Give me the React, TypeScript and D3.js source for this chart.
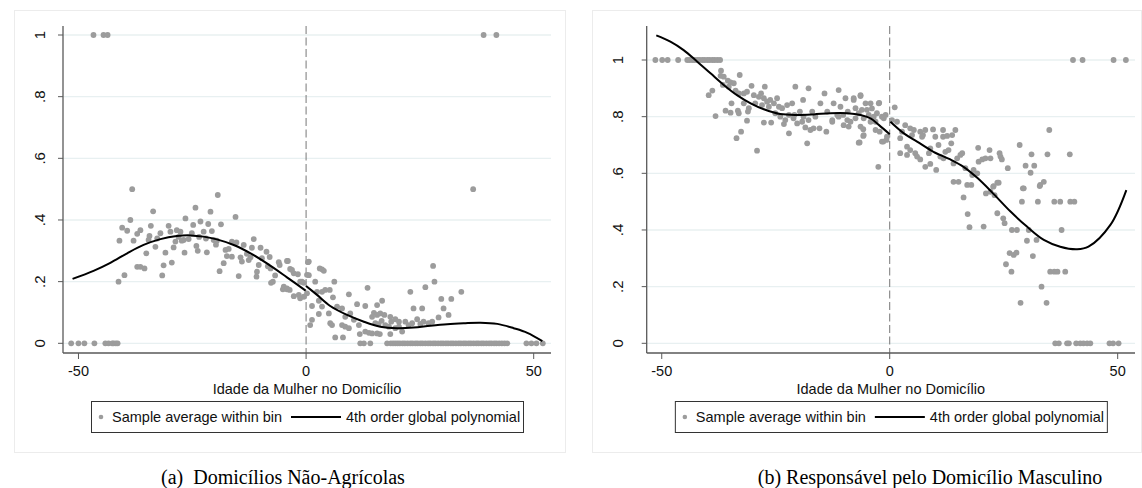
import React from 'react';
import * as d3 from 'd3';

type P = [number, number];

const xTicks = [-50, 0, 50];
const yTicks = [0, 0.2, 0.4, 0.6, 0.8, 1];
const yTickLabels = ['0', '.2', '.4', '.6', '.8', '1'];
const xTitle = 'Idade da Mulher no Domicílio';
const legendLabels = ['Sample average within bin', '4th order global polynomial'];
const captions = ['(a)\u00A0 Domicílios Não-Agrícolas', '(b) Responsável pelo Domicílio Masculino'];

// ---------- Panel (a) ----------
const aOnes = [-46.7, -44.5, -43.6, 39.0, 41.8];
const aZeros = [-51.6, -50, -48.7, -46.5, -44.1, -43.4, -42.6, -42.3, -41.8, -41.4, 11.9, 12.7, 14.1,
  17.8, 18.6, 19.1, 19.6, 20.1, 20.6, 21.2, 21.7, 22.3, 22.9, 23.4, 24.0, 24.5, 25.1, 25.6, 26.2, 26.8,
  27.3, 27.9, 28.4, 29.0, 29.6, 30.1, 30.7, 31.2, 31.8, 32.3, 32.9, 33.5, 34.0, 34.6, 35.1, 35.7, 36.2,
  36.8, 37.4, 37.9, 38.5, 39.0, 39.6, 40.2, 40.7, 41.3, 41.8, 42.4, 43.0, 43.6, 44.2, 48.4, 49.5, 50.6, 52.0];
const aPoints: P[] = [
  [-38.2, 0.5], [-19.4, 0.481], [36.7, 0.5],
  [-33.6, 0.428], [-24.3, 0.44], [-21, 0.427], [-15.5, 0.41], [-38.6, 0.40], [-40.4, 0.375], [-39.3, 0.365],
  [-36.4, 0.367], [-37.1, 0.355], [-41, 0.333], [-37.9, 0.333], [-34.1, 0.381], [-34.4, 0.348], [-34.6, 0.335],
  [-32, 0.357], [-32.7, 0.34], [-33.1, 0.313], [-30.2, 0.381], [-29.8, 0.362], [-28.4, 0.367], [-27.6, 0.362],
  [-28.7, 0.33], [-29.1, 0.311], [-30.9, 0.294], [-35.1, 0.292], [-37.1, 0.248], [-36.4, 0.248], [-35.5, 0.243],
  [-31.3, 0.253], [-31.6, 0.22], [-29.5, 0.262], [-39.9, 0.221], [-41.2, 0.2], [-26.5, 0.405], [-24.8, 0.384],
  [-23.2, 0.395], [-21.5, 0.387], [-22.5, 0.362], [-20.7, 0.364], [-18.7, 0.386], [-25.1, 0.357], [-26.9, 0.335],
  [-25.8, 0.338], [-27.3, 0.333], [-24.1, 0.316], [-23.8, 0.30], [-21.8, 0.295], [-26.7, 0.294], [-20.3, 0.335],
  [-19.6, 0.333], [-17.7, 0.303], [-17, 0.306], [-16.3, 0.33], [-15.3, 0.327], [-13.7, 0.319], [-11.5, 0.338],
  [-11.9, 0.31], [-10, 0.31], [-8.7, 0.297], [-17.4, 0.283], [-16.3, 0.281], [-18.1, 0.26], [-14.4, 0.279],
  [-14.1, 0.265], [-12.6, 0.27], [-12.2, 0.279], [-9.7, 0.276], [-10.4, 0.254], [-10.8, 0.232], [-10.9, 0.216],
  [-19, 0.234], [-14.8, 0.218], [-7.8, 0.243], [-6, 0.263], [-5.8, 0.254], [-4, 0.267], [-3.5, 0.241],
  [-2.7, 0.227], [-7.7, 0.196], [-7.3, 0.2], [-5.1, 0.175], [-4.2, 0.175], [-3.6, 0.173], [-2.7, 0.153],
  [-1.6, 0.157], [-1.3, 0.146], [-0.5, 0.151], [-1.3, 0.2], [-0.5, 0.196], [-4.2, 0.267], [-3.1, 0.238],
  [-1.8, 0.224], [-4.9, 0.184], [-4.2, 0.178], [-0.9, 0.2], [-28.0, 0.345], [-23.5, 0.345], [-22.0, 0.34],
  [-19.8, 0.32], [-13, 0.29], [-8, 0.28], [-6.8, 0.22], [-8.4, 0.25],
  [0.2, 0.162], [0.6, 0.265], [0.6, 0.221], [0.4, 0.263], [0.2, 0.222], [2.0, 0.2], [3.0, 0.243], [3.5, 0.24],
  [3.9, 0.235], [2.4, 0.167], [3.5, 0.167], [4.2, 0.173], [5.2, 0.173], [6.2, 0.2], [5.9, 0.149], [1.3, 0.121],
  [2.8, 0.138], [3.5, 0.119], [1.3, 0.076], [0.9, 0.059], [2.8, 0.095], [5.0, 0.097], [5.3, 0.065], [5.7, 0.059],
  [6.8, 0.119], [7.9, 0.113], [9.4, 0.159], [8.6, 0.086], [9.7, 0.097], [10.5, 0.076], [7.9, 0.059], [8.6, 0.054],
  [9.4, 0.049], [6.4, 0.019], [8.1, 0.019], [11.2, 0.127], [13.0, 0.121], [13.5, 0.18], [11.6, 0.059], [11.8, 0.03],
  [13.0, 0.038], [13.8, 0.034], [14.5, 0.032], [15.6, 0.032], [16.2, 0.03], [14.5, 0.086], [14.9, 0.099],
  [15.6, 0.092], [16.3, 0.097], [17.2, 0.092], [15.2, 0.065], [15.9, 0.062], [16.6, 0.073], [15.6, 0.124],
  [16.7, 0.138], [17.4, 0.059], [18.2, 0.054], [18.7, 0.07], [18.5, 0.086], [19.6, 0.078], [20.4, 0.07],
  [18.5, 0.03], [19.6, 0.049], [20.4, 0.054], [21.1, 0.038], [21.8, 0.07], [22.5, 0.059], [22.9, 0.167],
  [23.6, 0.113], [25.5, 0.113], [23.3, 0.065], [24.4, 0.078], [25.1, 0.063], [25.8, 0.07], [26.9, 0.065],
  [27.7, 0.07], [26.2, 0.182], [27.9, 0.251], [28.2, 0.2], [30.2, 0.113], [29.7, 0.144], [31.9, 0.144],
  [29.1, 0.084], [31.3, 0.092], [34.1, 0.167]
];
const aFitLeft: P[] = [
  [-51.3, 0.209], [-46.7, 0.235], [-43, 0.261], [-39.3, 0.292], [-35.7, 0.319], [-32, 0.338], [-28.4, 0.348],
  [-25.4, 0.35], [-22.5, 0.346], [-19.6, 0.337], [-15.9, 0.319], [-12.2, 0.292], [-8.6, 0.259], [-4.2, 0.214], [-0.1, 0.171]
];
const aFitRight: P[] = [
  [0, 0.186], [2.4, 0.157], [5.3, 0.121], [9.0, 0.092], [12.7, 0.07], [16.3, 0.054], [20, 0.049], [23.6, 0.051],
  [27.3, 0.057], [31, 0.062], [34.6, 0.065], [38.3, 0.067], [42, 0.063], [45.6, 0.049], [48.6, 0.034], [51.9, 0.007]
];

// ---------- Panel (b) ----------
const bOnes = [-51.4, -49.9, -48.7, -46.4, -44.4, -43.9, -43.3, -42.8, -42.2, -41.7, -41.1, -40.6, -40.0, -39.5,
  -38.9, -38.4, -37.8, -37.2, 40.2, 42.3, 49.1, 51.8];
const bZeros = [36.3, 37.1, 38.9, 39.3, 40.9, 41.8, 42.5, 43.3, 44, 48.2, 49, 50.2];
const bPoints: P[] = [
  [-37, 0.962], [-32.9, 0.947], [-37.1, 0.944], [-36.4, 0.941], [-35.5, 0.927], [-34.9, 0.921], [-34.2, 0.918],
  [-36.6, 0.912], [-35.3, 0.906], [-38.9, 0.892], [-39.7, 0.876], [-33.8, 0.892], [-33.1, 0.882], [-32, 0.882],
  [-31.3, 0.888], [-30.3, 0.909], [-27.4, 0.906], [-29.8, 0.876], [-28.7, 0.87], [-28.2, 0.882], [-27.6, 0.865],
  [-26.9, 0.853], [-26.2, 0.859], [-25.4, 0.847], [-24.7, 0.865], [-24.3, 0.835], [-23.6, 0.83], [-22.5, 0.841],
  [-21.4, 0.847], [-20.7, 0.906], [-19, 0.859], [-17.8, 0.9], [-19.7, 0.818], [-18.9, 0.8], [-17.8, 0.788],
  [-17, 0.818], [-16.3, 0.8], [-15.2, 0.847], [-14.3, 0.882], [-13.7, 0.818], [-12.6, 0.788], [-12.3, 0.847],
  [-11.2, 0.894], [-10.8, 0.835], [-9.7, 0.865], [-9.2, 0.818], [-7.9, 0.859], [-6.4, 0.876], [-5.3, 0.847],
  [-4.2, 0.847], [-6.1, 0.824], [-4.6, 0.806], [-3.5, 0.8], [-2.3, 0.849], [-0.9, 0.806],
  [-38.2, 0.802], [-36, 0.821], [-34.9, 0.814], [-33.3, 0.821], [-33.1, 0.812], [-31.1, 0.818], [-34.7, 0.847],
  [-31.3, 0.786], [-32.6, 0.747], [-33.6, 0.724], [-29.1, 0.68], [-27.6, 0.779], [-26, 0.779], [-23.2, 0.774],
  [-22.1, 0.741], [-21.1, 0.794], [-20.3, 0.776], [-19.2, 0.782], [-18.5, 0.762], [-18.1, 0.706], [-17.4, 0.753],
  [-16.7, 0.759], [-15.4, 0.759], [-13.9, 0.747], [-12.6, 0.782], [-11.5, 0.806], [-10.1, 0.77], [-9, 0.765],
  [-8.6, 0.782], [-6.6, 0.709], [-5.8, 0.732], [-5.8, 0.756], [-4.2, 0.782], [-3.1, 0.753], [-2.2, 0.747],
  [-1.7, 0.712], [-0.7, 0.718], [-2.5, 0.623],
  [-7.9, 0.865], [-6.4, 0.873], [-2.4, 0.847], [-7.5, 0.83], [-5.7, 0.794], [-3.1, 0.782], [-1.3, 0.794],
  [-6.4, 0.765], [-5.7, 0.735], [-6.8, 0.708], [-0.6, 0.729], [-1.4, 0.712],
  [-25.1, 0.812], [-24, 0.8], [-22.1, 0.806], [-20.9, 0.806], [-22.9, 0.788], [-29.5, 0.847], [-28, 0.841],
  [-26.5, 0.835], [-32, 0.847], [-30.9, 0.83], [-11.2, 0.8], [-10.2, 0.806], [-9.3, 0.788], [-7.5, 0.794],
  [-6.8, 0.812], [-5, 0.824], [-3.9, 0.829], [-2.8, 0.812], [-1.7, 0.8],
  [1.1, 0.833], [0.5, 0.788], [1.6, 0.782], [3.4, 0.77], [4.5, 0.759], [5.3, 0.753], [4.9, 0.735], [2.3, 0.724],
  [2.7, 0.747], [6.7, 0.747], [7.3, 0.735], [7.8, 0.753], [7.1, 0.729], [9.5, 0.755], [11.7, 0.753], [14.4, 0.753],
  [13.7, 0.735], [12.6, 0.732], [11.7, 0.729], [10, 0.729], [10.7, 0.7], [8.9, 0.688], [13.5, 0.706], [3.8, 0.694],
  [4.5, 0.682], [5.6, 0.671], [6, 0.659], [6.7, 0.649], [2.3, 0.671], [3.8, 0.665], [8.6, 0.671], [8.9, 0.633],
  [7.8, 0.623], [10.2, 0.612], [12.2, 0.676], [12.9, 0.682], [11.1, 0.659], [11.8, 0.653], [14.8, 0.653],
  [15.5, 0.665], [15.9, 0.671], [14, 0.635], [16.6, 0.618], [18.4, 0.612], [19.2, 0.6], [18.1, 0.594],
  [19.4, 0.69], [19.5, 0.641], [20.3, 0.649], [21, 0.653], [21.9, 0.682], [22.1, 0.653], [24.1, 0.671],
  [24.3, 0.659], [24.6, 0.649], [25.9, 0.618], [23.6, 0.567], [22.8, 0.555], [21.1, 0.529], [22.1, 0.535],
  [14, 0.57], [15.1, 0.57], [17, 0.559], [17.9, 0.559], [16.2, 0.515], [28.5, 0.7], [31.1, 0.667], [34.6, 0.667],
  [39.5, 0.667], [35, 0.753], [29.8, 0.627], [31.7, 0.627], [30.9, 0.602], [29.4, 0.547], [33, 0.559],
  [33.8, 0.57], [17.1, 0.456], [17.5, 0.41], [20.6, 0.412], [23, 0.523], [23.9, 0.567], [22.7, 0.553],
  [23.6, 0.459], [24.9, 0.441], [25.2, 0.424], [26.8, 0.4], [27.9, 0.4], [26.3, 0.318], [27.2, 0.312],
  [27.8, 0.32], [25.5, 0.279], [26.7, 0.253], [29.2, 0.547], [29, 0.5], [32.5, 0.5], [30.5, 0.4], [30.1, 0.362],
  [32.2, 0.365], [31.4, 0.308], [32.9, 0.555], [36.1, 0.5], [37.4, 0.5], [39.6, 0.5], [40.5, 0.5], [37.7, 0.4],
  [35.2, 0.253], [36.1, 0.253], [36.8, 0.253], [38.5, 0.253], [33.3, 0.2], [28.7, 0.143], [34.4, 0.143]
];
const bFitLeft: P[] = [
  [-51.2, 1.087], [-48.1, 1.065], [-45.2, 1.035], [-42.2, 0.994], [-39.3, 0.953], [-36.4, 0.912], [-33.5, 0.876],
  [-30.5, 0.847], [-27.6, 0.826], [-24, 0.809], [-20.3, 0.806], [-16.7, 0.808], [-13, 0.812], [-9.3, 0.812],
  [-6.4, 0.806], [-4.2, 0.794], [-2.4, 0.771], [0, 0.738]
];
const bFitRight: P[] = [
  [0.15, 0.782], [3.1, 0.741], [6, 0.712], [9.6, 0.676], [13.3, 0.649], [16.2, 0.623], [19.2, 0.584],
  [22.5, 0.532], [26.5, 0.465], [30.1, 0.412], [33.8, 0.365], [37.4, 0.341], [41.1, 0.332], [43.6, 0.341],
  [48.4, 0.418], [51.9, 0.541]
];

const SANS = '"Liberation Sans", Arial, Helvetica, sans-serif';
const SERIF = '"Liberation Serif", "Times New Roman", serif';
const DOT = '#9c9c9c';
const GRID = '#e8f0f1';
const AXIS = '#595959';

interface Layout {
  frame: [number, number, number, number];
  left: number; right: number; top: number; axisY: number;
  xDomain: [number, number]; yPix0: number; yPix1: number;
  yLabelX: number; legendW: number; captionX: number;
}

const layouts: Layout[] = [
  { frame: [14, 10, 565, 452], left: 63, right: 551, top: 26, axisY: 353, xDomain: [-53.4, 53.8],
    yPix0: 343.3, yPix1: 35, yLabelX: 45, legendW: 432, captionX: 283 },
  { frame: [592, 10, 1141, 452], left: 646.7, right: 1135, top: 26, axisY: 353, xDomain: [-53.3, 53.8],
    yPix0: 343.3, yPix1: 60, yLabelX: 623, legendW: 432, captionX: 930 },
];

function Panel({ L, points, ones, zeros, fitL, fitR, caption }: {
  L: Layout; points: P[]; ones: number[]; zeros: number[]; fitL: P[]; fitR: P[]; caption: string;
}) {
  const x = d3.scaleLinear().domain(L.xDomain).range([L.left, L.right]);
  const y = d3.scaleLinear().domain([0, 1]).range([L.yPix0, L.yPix1]);
  const line = d3.line<P>().x(d => x(d[0])).y(d => y(d[1])).curve(d3.curveCatmullRom.alpha(0.5));
  const allPts: P[] = [
    ...points,
    ...ones.map(v => [v, 1] as P),
    ...zeros.map(v => [v, 0] as P),
  ];
  const cx = (L.left + L.right) / 2;
  const lgX = cx - L.legendW / 2;
  const lgY = 401;
  const [fx0, fy0, fx1, fy1] = L.frame;
  return (
    <g>
      <rect x={fx0 + 0.5} y={fy0 + 0.5} width={fx1 - fx0} height={fy1 - fy0} fill="#fff" stroke="#ececec" strokeWidth={1} />
      {yTicks.map((t, i) => (
        <g key={'g' + i}>
          <line x1={L.left} x2={L.right} y1={y(t)} y2={y(t)} stroke={GRID} strokeWidth={1.3} />
          <line x1={L.left - 5} x2={L.left} y1={y(t)} y2={y(t)} stroke={AXIS} strokeWidth={1} />
          <text transform={`translate(${L.yLabelX},${y(t)}) rotate(-90)`} textAnchor="middle"
            fontFamily={SANS} fontSize={15} fill="#111">{yTickLabels[i]}</text>
        </g>
      ))}
      <line x1={x(0)} x2={x(0)} y1={L.top} y2={L.axisY} stroke="#777" strokeWidth={1} strokeDasharray="8,3.5" />
      {allPts.map((d, i) => (
        <circle key={'p' + i} cx={x(d[0])} cy={y(d[1])} r={2.9} fill={DOT} />
      ))}
      <path d={line(fitL) || ''} fill="none" stroke="#000" strokeWidth={2} />
      <path d={line(fitR) || ''} fill="none" stroke="#000" strokeWidth={2} />
      <line x1={L.left} x2={L.left} y1={L.top} y2={L.axisY} stroke={AXIS} strokeWidth={1.3} />
      <line x1={L.left} x2={L.right} y1={L.axisY} y2={L.axisY} stroke={AXIS} strokeWidth={1.3} />
      {xTicks.map((t, i) => (
        <g key={'x' + i}>
          <line x1={x(t)} x2={x(t)} y1={L.axisY} y2={L.axisY + 6} stroke={AXIS} strokeWidth={1} />
          <text x={x(t)} y={L.axisY + 22.5} textAnchor="middle" fontFamily={SANS} fontSize={14.5} fill="#111">{t}</text>
        </g>
      ))}
      <text x={cx} y={L.axisY + 41} textAnchor="middle" fontFamily={SANS} fontSize={14.5} fill="#111">{xTitle}</text>
      <rect x={lgX + 0.5} y={lgY + 0.5} width={L.legendW} height={31} fill="#fff" stroke="#333" strokeWidth={1} />
      <circle cx={lgX + 10} cy={lgY + 16} r={2.3} fill={DOT} />
      <text x={lgX + 21} y={lgY + 21} fontFamily={SANS} fontSize={14.5} fill="#111">{legendLabels[0]}</text>
      <line x1={lgX + 200} x2={lgX + 250} y1={lgY + 16} y2={lgY + 16} stroke="#000" strokeWidth={2} />
      <text x={lgX + 255} y={lgY + 21} fontFamily={SANS} fontSize={14.5} fill="#111">{legendLabels[1]}</text>
      <text x={L.captionX} y={484} textAnchor="middle" fontFamily={SERIF} fontSize={20} fill="#000">{caption}</text>
    </g>
  );
}

export default function App() {
  return (
    <div style={{ position: 'absolute', left: 0, top: 0 }}>
      <svg width={1142} height={488} style={{ display: 'block', background: '#fff' }}>
        <Panel L={layouts[0]} points={aPoints} ones={aOnes} zeros={aZeros} fitL={aFitLeft} fitR={aFitRight} caption={captions[0]} />
        <Panel L={layouts[1]} points={bPoints} ones={bOnes} zeros={bZeros} fitL={bFitLeft} fitR={bFitRight} caption={captions[1]} />
      </svg>
    </div>
  );
}
